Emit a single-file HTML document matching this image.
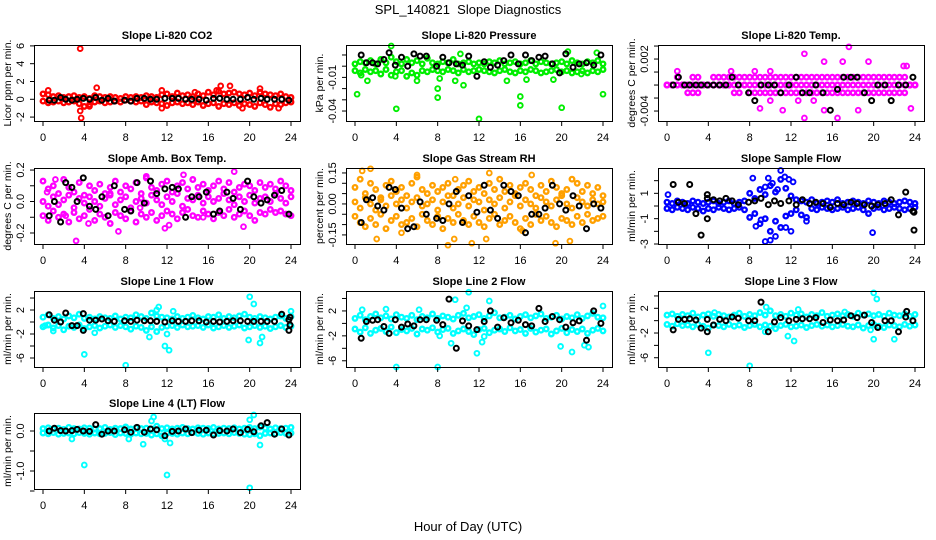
<!DOCTYPE html>
<html><head><meta charset="utf-8">
<style>
html,body{margin:0;padding:0;background:#fff;}
svg{display:block;font-family:"Liberation Sans",sans-serif;}
</style></head>
<body>
<svg id="chart" width="936" height="540" viewBox="0 0 936 540" xmlns="http://www.w3.org/2000/svg">
<text x="468" y="14" font-size="13" text-anchor="middle" xml:space="preserve">SPL_140821  Slope Diagnostics</text>
<text x="468" y="531" font-size="13" text-anchor="middle">Hour of Day (UTC)</text>
</svg>
<script>
const bandHours=[0,0.5,1,1.5,2,2.5,3,3.5,4,4.5,5,5.5,6,6.5,7,7.5,8,8.5,9,9.5,10,10.5,11,11.5,12,12.5,13,13.5,14,14.5,15,15.5,16,16.5,17,17.5,18,18.5,19,19.5,20,20.5,21,21.5,22,22.5,23,23.5,24];
const blackHours=[0.6,1.1,1.7,2.2,2.8,3.3,3.9,4.5,5.1,5.7,6.3,6.9,7.9,8.5,9.1,9.8,10.4,11.0,11.8,12.5,13.1,13.8,14.4,15.1,15.8,16.5,17.1,17.8,18.4,19.1,19.8,20.4,21.1,21.7,22.4,23.1,23.8];
const xTicks=[0,4,8,12,16,20,24];

const p1BandA=[0.6,0.5,0.3,0.4,0.2,0.3,0.4,0.2,0.3,0.1,0.4,0.3,0.2,0.3,0.2,0.1,0.3,0.2,0.3,0.2,0.4,0.3,0.2,0.5,0.6,0.3,0.7,0.4,0.5,0.3,0.6,0.4,0.8,0.5,0.9,0.6,0.7,0.8,0.6,0.5,0.7,0.4,0.8,0.6,0.5,0.4,0.6,0.3,0.2];
const p1BandB=[-0.2,-0.4,-0.3,-0.2,-0.4,-0.3,-0.2,-0.5,-0.8,-0.6,-0.3,-0.2,-0.4,-0.3,-0.2,-0.3,-0.1,-0.2,-0.3,-0.2,-0.6,-0.3,-0.4,-0.5,-0.7,-0.4,-0.3,-0.5,-0.4,-0.6,-0.3,-0.7,-0.5,-0.4,-0.8,-0.5,-0.6,-0.4,-0.7,-0.5,-0.6,-0.8,-0.4,-0.6,-0.9,-0.5,-0.6,-0.4,-0.3];
const p1Black=[-0.1,-0.1,0.2,0,-0.1,0,0.1,0,0.2,-0.1,0.1,-0.2,-0.1,-0.2,0.1,0.1,0,0,0.1,0.1,0.1,0,0,0,-0.1,0.1,0.1,0,0,0,0.2,0,0.1,0,0,0,-0.1];
const p1OutHours=[3.6,3.6,3.7,5.2,17.2,18.1,21,19.3,22.8,11.5,11.5,0.5,14.7,4.5,16.8];
const p1OutValues=[5.7,-1.3,-2.1,1.3,1.5,1.5,1.2,-1,-1,-1,1,1,0.8,-0.8,1];
const p1YTicks=[6,4,2,0,-2];
const p1YLabels=["6","4","2","0","-2"];

const p2BandA=[0.002,0.004,0.003,0.005,0.002,0.006,0.003,0.008,0.004,0.002,0.006,0.003,0.005,0.002,0.007,0.003,0.002,0.004,0.003,0.006,0.002,0.003,0.004,0.002,0.003,0.002,0.004,0.003,0.005,0.002,0.003,0.004,0.002,0.003,0.005,0.002,0.004,0.003,0.002,0.003,0.004,0.002,0.005,0.003,0.002,0.004,0.003,0.005,0.002];
const p2BandB=[-0.004,-0.006,-0.003,-0.005,-0.004,-0.007,-0.003,-0.008,-0.005,-0.004,-0.009,-0.006,-0.008,-0.004,-0.005,-0.003,-0.004,-0.005,-0.003,-0.004,-0.006,-0.003,-0.005,-0.004,-0.003,-0.004,-0.005,-0.006,-0.004,-0.003,-0.005,-0.006,-0.004,-0.005,-0.003,-0.004,-0.006,-0.005,-0.004,-0.003,-0.005,-0.004,-0.006,-0.005,-0.004,-0.006,-0.004,-0.005,-0.003];
const p2Black=[0.010,0.003,0.003,0.002,0.006,0.012,0.001,0.008,0.000,0.011,0.009,0.009,0.000,0.008,0.003,0.002,0.001,0.009,-0.009,0.004,-0.001,0.001,0.005,0.010,0.002,0.010,0.005,0.008,0.009,0.002,-0.006,0.011,-0.001,0.002,0.003,0.001,0.010];
const p2OutHours=[0.2,4,8,8,12,16,16,20,24,3.5,14.7,10.5,1.2,6,9.7,19.2,20.6,23.4,0.6,3.9,8.2,16.6,21.9,10.2];
const p2OutValues=[-0.025,-0.038,-0.028,-0.02,-0.047,-0.035,-0.027,-0.037,-0.025,0.018,-0.013,-0.017,-0.013,-0.013,-0.013,-0.012,0.013,0.012,-0.008,-0.009,-0.011,-0.012,-0.007,0.011];
const p2YTicks=[0.01,0,-0.01,-0.02,-0.03,-0.04];
const p2YLabels=["","","-0.01","","","-0.04"];

const p3BandA=[-0.001,-0.001,-0.0001,-0.001,-0.001,-0.0001,-0.0001,-0.001,-0.001,-0.0001,-0.0001,-0.0001,-0.0001,-0.0001,-0.0001,-0.0001,-0.0001,-0.0001,-0.0001,-0.0001,-0.0001,-0.0001,-0.0001,-0.0001,-0.0001,-0.0001,-0.0001,-0.0001,-0.0001,-0.0001,-0.0001,-0.0001,-0.0001,-0.0001,-0.0001,-0.0001,-0.0001,-0.0001,-0.0001,-0.0001,-0.0001,-0.0001,-0.0001,-0.0001,-0.0001,-0.0001,-0.0001,-0.001,-0.001];
const p3BandB=[-0.001,-0.001,-0.001,-0.001,-0.001,-0.001,-0.001,-0.001,-0.001,-0.001,-0.001,-0.001,-0.001,-0.001,-0.001,-0.001,-0.001,-0.001,-0.001,-0.001,-0.001,-0.001,-0.001,-0.001,-0.001,-0.001,-0.001,-0.001,-0.001,-0.001,-0.001,-0.001,-0.001,-0.001,-0.001,-0.001,-0.001,-0.001,-0.001,-0.001,-0.001,-0.001,-0.001,-0.001,-0.001,-0.001,-0.001,-0.001,-0.001];
const p3BandC=[-0.001,-0.001,-0.001,-0.001,-0.0019,-0.0019,-0.0019,-0.001,-0.001,-0.001,-0.001,-0.001,-0.001,-0.0019,-0.0019,-0.001,-0.0019,-0.0019,-0.0019,-0.0019,-0.0019,-0.0019,-0.0019,-0.0019,-0.0019,-0.0019,-0.0019,-0.0019,-0.0019,-0.0019,-0.0019,-0.0019,-0.0019,-0.0019,-0.0019,-0.0019,-0.0019,-0.0019,-0.0019,-0.0019,-0.0019,-0.0019,-0.0019,-0.0019,-0.0019,-0.0019,-0.0019,-0.001,-0.001];
const p3Black=[-0.001,-0.0001,-0.001,-0.001,-0.001,-0.001,-0.001,-0.001,-0.001,-0.001,-0.0001,-0.001,-0.0019,-0.0028,-0.001,-0.001,-0.001,-0.0019,-0.001,-0.0001,-0.0019,-0.0019,-0.001,-0.0019,-0.0039,-0.0015,-0.0001,-0.0001,-0.0001,-0.0019,-0.0028,-0.001,-0.001,-0.0028,-0.001,-0.001,-0.0001];
const p3OutHours=[1,13.3,17.6,15.2,19.5,17,22.9,23.2,13.3,16.5,15.2,11.2,18.5,23.6,9,12.7,14.2,10,8.5,10,6.2];
const p3OutValues=[0.0006,0.0026,0.0034,0.0017,0.0017,0.0017,0.0012,0.0012,-0.0048,-0.0048,-0.0039,-0.0039,-0.0039,-0.0037,-0.0037,-0.0028,-0.0028,-0.0028,0.0006,0.0006,0.0006];
const p3YTicks=[0.0035,0.002,0.0005,-0.001,-0.0025,-0.004];
const p3YLabels=["","0.002","","","","-0.004"];

const p4BandA=[0.13,0.08,0.10,0.05,0.14,0.09,0.06,0.12,0.04,0.10,0.07,0.11,0.05,0.09,0.13,0.06,0.10,0.08,0.12,0.05,0.15,0.09,0.07,0.11,0.13,0.06,0.10,0.12,0.08,0.14,0.09,0.11,0.07,0.10,0.13,0.08,0.12,0.06,0.09,0.11,0.10,0.07,0.12,0.09,0.11,0.08,0.13,0.10,0.07];
const p4BandB=[0.00,-0.03,0.03,-0.02,0.01,0.04,-0.04,0.02,-0.01,0.03,0.00,-0.03,0.02,0.05,-0.02,0.01,0.03,-0.04,0.00,0.02,-0.01,0.04,0.01,-0.02,0.03,0.00,0.05,-0.03,0.02,0.01,0.04,-0.01,0.03,0.00,0.02,0.05,0.01,-0.02,0.03,0.00,0.04,-0.01,0.02,0.03,0.00,0.05,0.02,-0.01,0.03];
const p4BandC=[-0.09,-0.12,-0.06,-0.10,-0.08,-0.13,-0.07,-0.11,-0.09,-0.05,-0.12,-0.08,-0.10,-0.14,-0.07,-0.09,-0.11,-0.06,-0.13,-0.08,-0.10,-0.07,-0.12,-0.09,-0.06,-0.08,-0.11,-0.07,-0.05,-0.09,-0.10,-0.06,-0.08,-0.11,-0.07,-0.09,-0.05,-0.10,-0.08,-0.06,-0.09,-0.12,-0.07,-0.08,-0.05,-0.07,-0.06,-0.08,-0.09];
const p4Black=[-0.09,0.00,-0.13,0.12,0.09,0.00,0.15,-0.03,-0.05,0.03,-0.09,0.10,-0.05,-0.06,0.12,-0.01,0.13,0.05,0.08,0.09,0.08,-0.10,0.03,0.03,0.06,-0.08,-0.06,0.06,0.02,-0.05,0.13,0.03,-0.01,0.01,0.04,0.07,-0.08];
const p4OutHours=[3.2,18.5,7.3,19.4,4.4,12.2,11.8,13.6,10,2.2,15.5,0.4,1.2,6.5,9.4];
const p4OutValues=[-0.25,0.19,-0.19,-0.16,-0.14,-0.15,-0.17,0.17,0.16,-0.09,-0.10,0.06,0.14,0.04,-0.04];
const p4YTicks=[0.2,0.1,0,-0.1,-0.2];
const p4YLabels=["0.2","","0.0","","-0.2"];

const p5BandA=[0.08,0.12,0.05,0.10,0.07,0.03,0.09,0.11,0.06,0.08,0.04,0.10,0.13,0.07,0.05,0.09,0.06,0.08,0.10,0.04,0.07,0.09,0.11,0.06,0.08,0.05,0.10,0.07,0.12,0.06,0.09,0.05,0.08,0.10,0.07,0.04,0.09,0.06,0.11,0.08,0.05,0.07,0.12,0.10,0.06,0.09,0.05,0.08,0.04];
const p5BandB=[0.01,-0.02,0.03,0.00,-0.03,0.02,-0.01,0.04,0.00,0.02,-0.02,0.01,0.03,-0.01,0.00,0.02,-0.03,0.01,0.04,-0.02,0.00,0.03,-0.01,0.02,0.01,-0.03,0.02,0.00,0.03,-0.02,0.01,0.04,-0.01,0.02,0.00,-0.02,0.03,0.01,-0.01,0.02,0.04,0.00,-0.02,0.03,0.01,-0.01,0.02,0.00,0.01];
const p5BandC=[-0.06,-0.09,-0.11,-0.07,-0.10,-0.05,-0.12,-0.08,-0.06,-0.10,-0.09,-0.07,-0.11,-0.05,-0.08,-0.10,-0.06,-0.12,-0.07,-0.09,-0.05,-0.08,-0.10,-0.06,-0.09,-0.11,-0.07,-0.05,-0.10,-0.08,-0.06,-0.09,-0.12,-0.07,-0.10,-0.05,-0.08,-0.06,-0.09,-0.11,-0.07,-0.08,-0.10,-0.06,-0.09,-0.05,-0.08,-0.07,-0.06];
const p5Black=[-0.09,0.02,0.03,-0.01,-0.03,0.08,0.07,-0.02,-0.12,-0.11,0.01,-0.05,-0.07,-0.08,0.00,0.06,-0.09,0.04,-0.04,0.09,-0.03,-0.07,0.09,0.06,0.04,-0.14,-0.05,-0.05,-0.02,0.09,0.00,-0.03,0.04,-0.01,-0.12,0.00,-0.02];
const p5OutHours=[2.1,9,9.6,11.3,12.7,19.4,20.8,1.5,0.7,6,13,17.1,9.7,4.5,16.2];
const p5OutValues=[-0.17,-0.20,-0.17,-0.19,-0.17,-0.19,-0.18,0.17,0.16,0.14,0.15,0.14,0.12,-0.14,-0.13];
const p5YTicks=[0.15,0.1,0.05,0,-0.05,-0.1,-0.15];
const p5YLabels=["0.15","","","0.00","","","-0.15"];

const p6BandA=[0.3,0.2,0.4,0.3,0.2,0.4,0.3,0.2,0.3,0.4,0.2,0.3,0.4,0.2,0.3,0.4,1.0,0.6,1.3,0.9,1.6,1.1,2.1,1.4,0.8,0.5,0.4,0.3,0.5,0.2,0.3,0.4,0.3,0.5,0.2,0.3,0.4,0.3,0.2,0.4,0.3,0.2,0.4,0.3,0.2,0.3,0.4,0.3,0.2];
const p6BandB=[-0.2,-0.3,-0.1,-0.2,-0.3,-0.1,-0.2,-0.4,-0.2,-0.3,-0.1,-0.2,-0.3,-0.2,-0.1,-0.3,-0.9,-0.6,-1.4,-1.0,-2.0,-1.2,-1.7,-0.8,-0.6,-0.3,-0.7,-0.9,-0.2,-0.3,-0.1,-0.2,-0.3,-0.2,-0.1,-0.3,-0.2,-0.1,-0.3,-0.6,-0.2,-0.1,-0.3,-0.2,-0.1,-0.2,-0.3,-0.2,-0.1];
const p6Black=[1.7,0.3,0.2,1.7,-0.6,-2.3,0.9,0.5,0.4,0.6,0.4,0.1,0.3,0.4,0.6,0.1,0.4,0.2,0.4,0.1,0.5,0.2,0.3,0.2,-0.1,0.2,0.1,0.3,0.2,0.1,0.0,0.1,0.2,0.5,-0.7,1.1,-0.4];
const p6OutHours=[9.5,10,10.5,9.8,10.2,11,11.4,11.8,8.3,8.6,12,11.5,13.5,19.9,0.1,9.5,10.7,9.1,12.2];
const p6OutValues=[-2.8,-2.7,-2.4,2.2,1.8,2.8,2.3,2.1,2.2,-1.6,-2,-1.7,-1.2,-2.1,0.9,1.5,1.3,-1.1,1.9];
const p6BlackOutHours=[3.9,23.9,23.9,3.9];
const p6BlackOutValues=[-1,-1.9,-0.5,0.6];
const p6YTicks=[2,1,0,-1,-2,-3];
const p6YLabels=["","1","","-1","","-3"];

const p7BandA=[0.8,1.2,0.6,0.9,0.5,1.0,0.7,1.3,0.6,0.8,0.5,0.9,0.7,0.6,1.0,0.5,0.8,0.7,1.2,0.9,0.6,1.5,1.0,0.8,0.7,0.5,0.9,0.6,0.8,1.1,0.7,0.5,0.9,0.8,1.2,0.6,0.9,0.7,1.0,1.3,0.8,0.6,0.9,0.7,0.5,0.8,1.0,0.6,0.9];
const p7BandB=[-0.8,-0.5,-1.0,-0.6,-1.3,-0.7,-0.9,-0.5,-1.1,-0.8,-0.6,-1.0,-0.7,-0.5,-0.9,-0.6,-0.8,-1.2,-0.7,-0.9,-1.4,-0.8,-1.6,-0.9,-0.7,-0.6,-0.9,-0.5,-0.8,-0.7,-0.6,-0.9,-0.5,-1.0,-0.8,-0.6,-0.9,-0.7,-0.5,-1.0,-0.8,-0.6,-0.9,-0.7,-1.1,-0.8,-0.6,-0.9,-0.7];
const p7Black=[1.2,0.3,0,1.5,-0.6,-0.6,1.4,0.3,0.3,0.5,0.2,0.1,0.2,0.1,0.3,0.2,0.2,0.1,0,0.2,0.1,0.1,0.2,0.2,0.0,0.1,0,0.1,0.2,0.2,0.1,0.1,0.1,0.1,0.1,1.3,0.4];
const p7OutHours=[4,8,11.2,10.3,11.8,12.2,20,20.4,19.9,21,21.2,24,1,12,5,11,12.6,0.2];
const p7OutValues=[-5.4,-7.2,2.5,-2.5,-4,-4.7,4.2,3,-3,-3.5,-2.5,1.8,-1.5,-2,-1.8,2,1.8,-0.6];
const p7BlackOutHours=[3.9,23.8,23.9,23.9];
const p7BlackOutValues=[-1.4,-1.4,-0.5,0.8];
const p7YTicks=[4,2,0,-2,-4,-6];
const p7YLabels=["","2","","-2","","-6"];

const p8BandA=[0.8,1.3,0.6,1.1,1.5,0.9,1.2,0.7,1.4,1.0,0.8,1.3,0.6,1.1,0.9,1.5,0.8,1.2,1.0,0.7,1.3,1.6,0.9,1.1,1.4,0.8,1.2,1.7,0.9,1.0,1.3,0.7,1.1,1.4,0.9,1.2,1.5,0.8,1.0,1.3,0.7,1.1,0.9,1.4,0.8,1.2,1.6,1.0,0.9];
const p8BandB=[-0.9,-1.4,-0.7,-1.6,-1.1,-0.8,-1.3,-0.6,-1.5,-1.0,-1.2,-0.8,-1.7,-0.9,-1.1,-0.7,-1.4,-1.0,-0.8,-1.6,-1.2,-0.9,-1.3,-1.8,-1.0,-0.8,-1.5,-1.1,-0.9,-1.3,-0.7,-1.2,-1.0,-1.6,-0.8,-1.4,-1.1,-0.9,-1.7,-1.2,-0.8,-1.5,-1.0,-1.3,-0.9,-1.6,-1.1,-0.8,-1.2];
const p8Black=[-2.4,0.3,0.5,0.6,-0.5,-1.6,0.6,-0.6,-0.1,-0.4,0.6,0.6,0.5,-0.2,3.9,-4,0.4,-0.4,-1,0.3,2.0,-0.6,0.9,0.1,0.5,-0.2,-0.4,2.4,0.3,1.1,0.6,-0.6,0.1,0.4,-2.7,2.0,0.0];
const p8OutHours=[4,8,11,9.7,11.8,13,19.9,21,22.2,22.6,24,0.7,3,6.2,9.3,12.3,10.8,12.5,8.2];
const p8OutValues=[-7,-7,5,3.8,-4.8,3.6,-3.7,-4.6,-3.5,-3.8,2.8,2.2,2.3,2.2,-3.2,-3,2.5,-2.1,-2];
const p8YTicks=[4,2,0,-2,-4,-6];
const p8YLabels=["","2","","-2","","-6"];

const p9BandA=[0.9,1.1,0.7,1.0,0.8,1.2,0.6,0.9,1.1,0.7,1.0,0.8,0.6,0.9,1.2,0.7,1.0,0.8,1.3,0.9,1.6,0.8,1.0,0.7,1.2,0.9,1.1,0.6,1.0,0.8,1.3,0.7,0.9,1.1,0.8,1.0,0.7,1.2,0.9,1.1,0.8,1.0,0.7,1.2,0.9,0.8,1.1,0.7,1.0];
const p9BandB=[-0.6,-0.9,-0.5,-0.8,-0.7,-1.0,-0.6,-0.9,-1.2,-0.7,-0.8,-1.0,-0.6,-0.9,-0.7,-1.1,-0.8,-0.6,-1.0,-0.7,-0.9,-1.3,-0.8,-0.6,-1.0,-0.9,-0.7,-1.1,-0.8,-0.6,-0.9,-0.7,-1.0,-0.8,-0.6,-0.9,-1.0,-0.7,-1.2,-0.8,-0.6,-0.9,-1.1,-0.7,-0.8,-1.0,-0.6,-0.9,-0.7];
const p9Black=[-1.5,0.2,0.2,0.3,0.1,-1.2,0.2,-0.7,0.2,0.0,0.6,0.4,0.0,0.0,3.0,-1.8,-0.2,0.5,0.0,0.2,0.3,0.3,0.5,-0.3,0.1,0.0,0.1,0.8,0.5,0.9,-0.3,-1.1,0.0,0.0,-1.8,0.6,0.0];
const p9OutHours=[4,8,20,20.3,20,22,11.7,12.3,9.6,9.5,4.6,12.7,17.2,19.7];
const p9OutValues=[-5.2,-7.3,4.5,3.5,-3,-3,-2.5,-3.3,2.2,-1.8,1.3,1.8,1.4,-1.5];
const p9BlackOutHours=[3.9,23.2];
const p9BlackOutValues=[-1.8,1.5];
const p9YTicks=[4,2,0,-2,-4,-6];
const p9YLabels=["","2","","-2","","-6"];

const p10BandA=[0.06,0.08,0.05,0.07,0.04,0.09,0.06,0.05,0.08,0.07,0.05,0.06,0.09,0.04,0.07,0.06,0.10,0.05,0.08,0.06,0.07,0.05,0.12,0.06,0.08,0.05,0.07,0.09,0.06,0.05,0.08,0.07,0.06,0.09,0.05,0.07,0.06,0.08,0.05,0.07,0.09,0.06,0.10,0.07,0.05,0.08,0.06,0.07,0.09];
const p10BandB=[-0.05,-0.07,-0.04,-0.08,-0.06,-0.05,-0.07,-0.04,-0.06,-0.08,-0.05,-0.07,-0.06,-0.04,-0.09,-0.05,-0.06,-0.08,-0.05,-0.07,-0.06,-0.10,-0.07,-0.12,-0.05,-0.06,-0.08,-0.05,-0.07,-0.04,-0.06,-0.08,-0.05,-0.07,-0.06,-0.05,-0.07,-0.04,-0.06,-0.08,-0.09,-0.07,-0.12,-0.06,-0.05,-0.07,-0.04,-0.06,-0.05];
const p10Black=[0.0,0.07,0.01,0.0,0.01,0.04,0.0,-0.01,0.16,-0.08,0.0,0.0,0.03,-0.03,0.09,-0.03,0.05,0.03,-0.12,-0.01,0.0,0.05,-0.04,0.02,0.02,-0.1,0.01,0.0,0.05,-0.04,0.04,-0.02,0.13,0.21,-0.08,0.05,-0.1];
const p10OutHours=[4,12,20,10.7,10.5,20.4,20,9.7,12.3,21,2.8,8.3,11.8];
const p10OutValues=[-0.85,-1.1,-1.42,0.35,0.25,0.4,0.28,-0.33,-0.3,-0.35,-0.2,-0.2,-0.2];
const p10YTicks=[0,-0.5,-1,-1.5];
const p10YLabels=["0.0","","-1.0",""];

const panels=[
 {name:"co2",title:"Slope Li-820 CO2",ylab:"Licor ppm per min.",col:0,row:0,color:"#ff0000",ymin:-2.44,ymax:6.1,bands:[p1BandA,p1BandB],black:p1Black,oh:p1OutHours,ov:p1OutValues,yt:p1YTicks,yl:p1YLabels},
 {name:"pressure",title:"Slope Li-820 Pressure",ylab:"kPa per min.",col:1,row:0,color:"#00ee00",ymin:-0.0489,ymax:0.0189,bands:[p2BandA,p2BandB],black:p2Black,oh:p2OutHours,ov:p2OutValues,yt:p2YTicks,yl:p2YLabels},
 {name:"licor-temp",title:"Slope Li-820 Temp.",ylab:"degrees C per min.",col:2,row:0,color:"#ff00ff",ymin:-0.00515,ymax:0.00362,bands:[p3BandA,p3BandB,p3BandC],black:p3Black,oh:p3OutHours,ov:p3OutValues,yt:p3YTicks,yl:p3YLabels},
 {name:"box-temp",title:"Slope Amb. Box Temp.",ylab:"degrees C per min.",col:0,row:1,color:"#ff00ff",ymin:-0.27,ymax:0.213,bands:[p4BandA,p4BandB,p4BandC],black:p4Black,oh:p4OutHours,ov:p4OutValues,yt:p4YTicks,yl:p4YLabels},
 {name:"gas-rh",title:"Slope Gas Stream RH",ylab:"percent per min.",col:1,row:1,color:"#ffa000",ymin:-0.194,ymax:0.174,bands:[p5BandA,p5BandB,p5BandC],black:p5Black,oh:p5OutHours,ov:p5OutValues,yt:p5YTicks,yl:p5YLabels},
 {name:"sample-flow",title:"Slope Sample Flow",ylab:"ml/min per min.",col:2,row:1,color:"#0000ff",ymin:-3.0,ymax:3.0,bands:[p6BandA,p6BandB],black:p6Black,oh:p6OutHours,ov:p6OutValues,bh:p6BlackOutHours,bv:p6BlackOutValues,yt:p6YTicks,yl:p6YLabels},
 {name:"line1-flow",title:"Slope Line 1 Flow",ylab:"ml/min per min.",col:0,row:2,color:"#00ffff",ymin:-7.5,ymax:5.17,bands:[p7BandA,p7BandB],black:p7Black,oh:p7OutHours,ov:p7OutValues,bh:p7BlackOutHours,bv:p7BlackOutValues,yt:p7YTicks,yl:p7YLabels},
 {name:"line2-flow",title:"Slope Line 2 Flow",ylab:"ml/min per min.",col:1,row:2,color:"#00ffff",ymin:-7.0,ymax:5.2,bands:[p8BandA,p8BandB],black:p8Black,oh:p8OutHours,ov:p8OutValues,yt:p8YTicks,yl:p8YLabels},
 {name:"line3-flow",title:"Slope Line 3 Flow",ylab:"ml/min per min.",col:2,row:2,color:"#00ffff",ymin:-7.5,ymax:4.8,bands:[p9BandA,p9BandB],black:p9Black,oh:p9OutHours,ov:p9OutValues,bh:p9BlackOutHours,bv:p9BlackOutValues,yt:p9YTicks,yl:p9YLabels},
 {name:"line4-flow",title:"Slope Line 4 (LT) Flow",ylab:"ml/min per min.",col:0,row:3,color:"#00ffff",ymin:-1.45,ymax:0.45,bands:[p10BandA,p10BandB],black:p10Black,oh:p10OutHours,ov:p10OutValues,yt:p10YTicks,yl:p10YLabels}
];

const NS="http://www.w3.org/2000/svg";
const svg=document.getElementById('chart');
const colX=[34,346,658], rowY=[45,168,291,413], BW=266, BH=76;

function mk(tag,attrs,parent){const e=document.createElementNS(NS,tag);for(const k in attrs)e.setAttribute(k,attrs[k]);parent.appendChild(e);return e;}

panels.forEach(p=>{
  const bx=colX[p.col], by=rowY[p.row];
  const g=mk('g',{},svg);
  
  
  const xs=h=>bx+9+h/24*248;
  const ys=v=>by+(p.ymax-v)/(p.ymax-p.ymin)*BH;
  const t=mk('text',{x:bx+BW/2,y:by-6,'font-size':'11','font-weight':'bold','text-anchor':'middle'},g);
  t.textContent=p.title;
  
  
  const yl=mk('text',{transform:`translate(${bx-23},${by+BH/2}) rotate(-90)`,'font-size':'10.5','text-anchor':'middle'},g);
  yl.textContent=p.ylab;
  
  
  const pts=mk('g',{fill:'none'},g);
  
  
  p.bands.forEach(arr=>{arr.forEach((v,i)=>{
    const c=mk('circle',{cx:xs(bandHours[i]).toFixed(1),cy:ys(v).toFixed(1),r:'2.3',stroke:p.color,'stroke-width':'2.3'},pts);
    
    
  });});
  p.ov.forEach((v,i)=>{
    const c=mk('circle',{cx:xs(p.oh[i]).toFixed(1),cy:ys(v).toFixed(1),r:'2.4',stroke:p.color,'stroke-width':'1.9'},pts);
    
    
  });
  p.black.forEach((v,i)=>{
    const c=mk('circle',{cx:xs(blackHours[i]).toFixed(1),cy:ys(v).toFixed(1),r:'2.5',stroke:'#000','stroke-width':'2'},pts);
    
    
  });
  if(p.bv){p.bv.forEach((v,i)=>{
    const c=mk('circle',{cx:xs(p.bh[i]).toFixed(1),cy:ys(v).toFixed(1),r:'2.5',stroke:'#000','stroke-width':'2'},pts);
    
    
  });}
  const box=mk('rect',{x:bx+0.5,y:by+0.5,width:BW,height:BH,fill:'none',stroke:'#000','stroke-width':'1'},g);
  
  
  const xa=mk('g',{},g);
  
  
  xTicks.forEach(h=>{
    const x=xs(h);
    mk('line',{x1:x,x2:x,y1:by+BH+0.5,y2:by+BH+5,stroke:'#000'},xa);
    const tl=mk('text',{x:x,y:by+BH+20,'font-size':'11','text-anchor':'middle'},xa);
    tl.textContent=String(h);
    
    
  });
  const ya=mk('g',{},g);
  
  
  p.yt.forEach((v,i)=>{
    const y=ys(v);
    mk('line',{x1:bx+0.5,x2:bx-4,y1:y,y2:y,stroke:'#000'},ya);
    if(p.yl[i]){
      const tl=mk('text',{transform:`translate(${bx-10},${y}) rotate(-90)`,'font-size':'11','text-anchor':'middle'},ya);
      tl.textContent=p.yl[i];
      
      
    }
  });
});
</script>
</body></html>
